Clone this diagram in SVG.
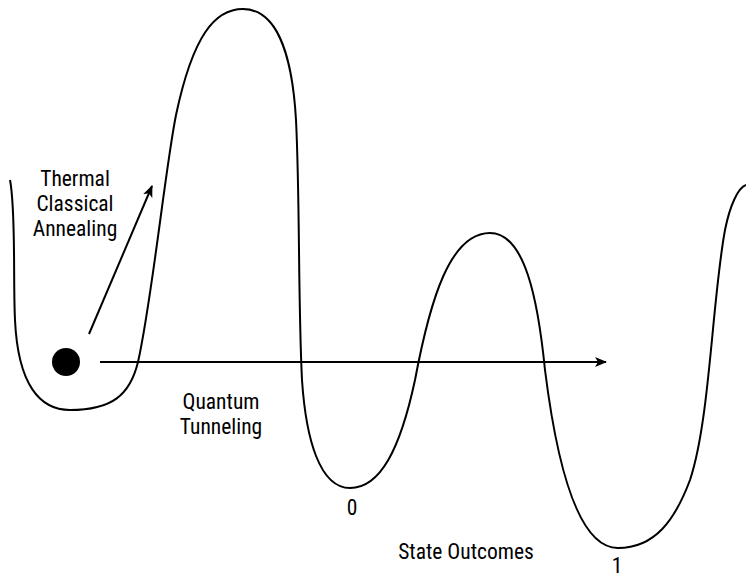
<svg xmlns="http://www.w3.org/2000/svg" width="746" height="577" viewBox="0 0 746 577">
<style>
.t{font-family:"Roboto Condensed","Liberation Sans Narrow","Liberation Sans",Arial,sans-serif;font-size:21.5px;fill:#000;text-anchor:middle}
.ln{fill:none;stroke:#000;stroke-width:2}
</style>
<defs>
<marker id="ah" markerWidth="12" markerHeight="10" refX="11" refY="5" orient="auto" markerUnits="userSpaceOnUse"><path d="M0,0 L12,5 L0,10 L3,5 Z" fill="#000"/></marker>
</defs>
<rect width="746" height="577" fill="#fff"/>
<g id="landscape">
<path class="ln" stroke-width="2.5" d="M10,180 C16,210 13,280 15,320 C18,385 40,410 70,410 C112,410 130,395 138,362 C152,300 165,170 176,115 C193,35 215,9 243,9 C275,9 292,50 296,120 C300,200 298,300 302,380 C306,440 320,488 350,488 C380,488 400,450 415,380 C430,300 450,233 490,233 C525,233 538,300 545,370 C555,450 575,548 618,548 C655,548 675,520 690,480 C710,420 712,300 725,230 C730,205 738,188 746,185"/>
</g>
<g id="ball"><circle cx="66" cy="362" r="14" fill="#000"/></g>
<g id="connectors">
<line class="ln" x1="89" y1="334" x2="152" y2="186" marker-end="url(#ah)"/>
<line class="ln" x1="100" y1="362" x2="606" y2="362" marker-end="url(#ah)"/>
</g>
<g id="labels">
<text class="t" x="75" y="186">Thermal</text>
<text class="t" x="75" y="211">Classical</text>
<text class="t" x="75" y="236">Annealing</text>
<text class="t" x="221" y="409">Quantum</text>
<text class="t" x="221" y="434">Tunneling</text>
<text class="t" x="352" y="515">0</text>
<text class="t" x="466" y="559">State Outcomes</text>
<text class="t" x="617" y="573">1</text>
</g>
</svg>
